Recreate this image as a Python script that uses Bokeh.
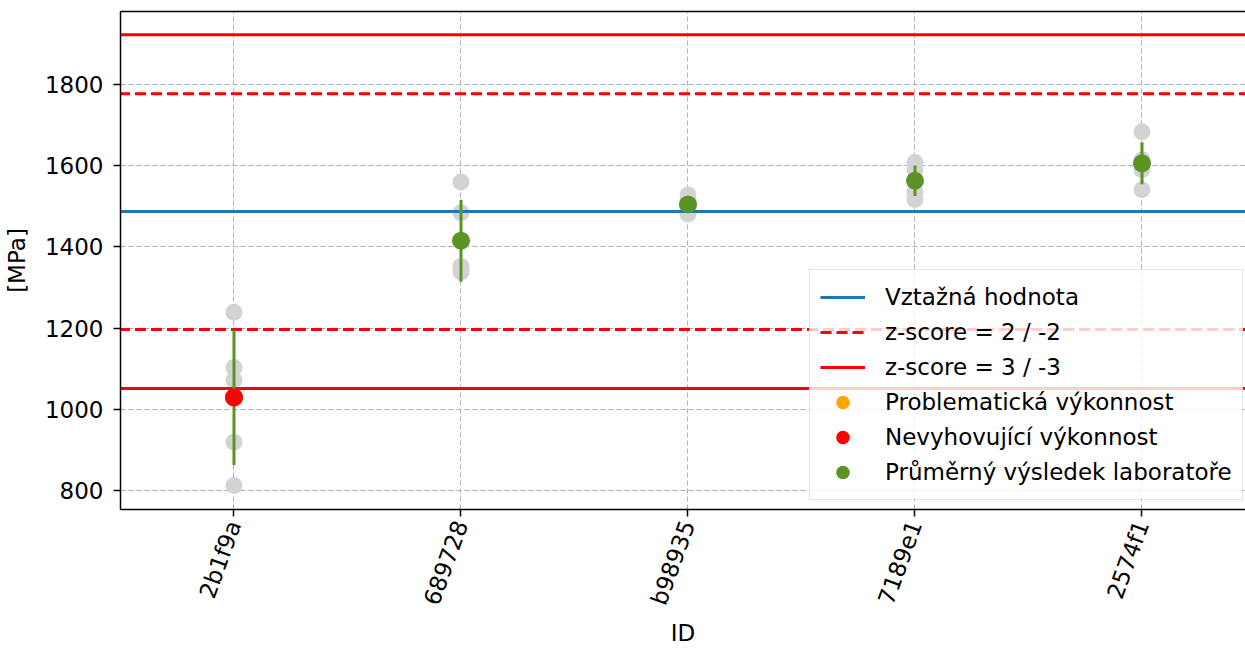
import math
import numpy as np
from bokeh.plotting import figure
from bokeh.models import (Range1d, FixedTicker, LinearAxis, Legend, LegendItem,
                          ColumnDataSource)
from bokeh.embed import file_html
from bokeh.resources import INLINE

# Laboratory IDs and individual results [MPa]
lab_ids = ["2b1f9a", "689728", "b98935", "7189e1", "2574f1"]
results_2b1f9a = [1239, 1103, 1072, 919, 812]
results_689728 = [1560, 1484, 1352, 1343, 1338]
results_b98935 = [1528, 1512, 1505, 1497, 1481]
results_7189e1 = [1608, 1590, 1565, 1535, 1517]
results_2574f1 = [1684, 1615, 1600, 1590, 1541]

# Assigned value and standard deviation for proficiency assessment
ref_value = 1487.0
ref_sigma = 145.3

y_ticks = [800, 1000, 1200, 1400, 1600, 1800]

all_results = [results_2b1f9a, results_689728, results_b98935,
               results_7189e1, results_2574f1]

FONT = "DejaVu Sans"
FONT_SIZE = "23px"
GREEN = "#5b9325"
GREY = "#d3d3d3"

xs_idx = list(range(len(lab_ids)))
means = [float(np.mean(r)) for r in all_results]
stds = [float(np.std(r, ddof=1)) for r in all_results]
zscores = [(m - ref_value) / ref_sigma for m in means]

# individual results
pts_x, pts_y = [], []
for i, r in zip(xs_idx, all_results):
    pts_x += [i] * len(r)
    pts_y += list(r)

p = figure(width=1245, height=648,
           x_range=Range1d(-0.5, 4.456), y_range=Range1d(753, 1980),
           output_backend="svg", toolbar_location=None,
           min_border_left=120, min_border_right=0,
           min_border_top=11, min_border_bottom=139)
p.outline_line_color = None
p.background_fill_color = "white"
p.border_fill_color = "white"

p.scatter(pts_x, pts_y, size=17, fill_color=GREY, line_color=None)

# reference lines
span_x = [-1, len(lab_ids) + 1]
r_ref = p.line(span_x, [ref_value] * 2, line_color="#1f77b4", line_width=3)
r_z2 = None
r_z3 = None
for k, dash in ((2, "11 5"), (3, "solid")):
    for sgn in (1, -1):
        lvl = ref_value + sgn * k * ref_sigma
        r = p.line(span_x, [lvl] * 2, line_color="red", line_width=3, line_dash=dash)
        if sgn == 1:
            if k == 2:
                r_z2 = r
            else:
                r_z3 = r

# error bars and means
p.segment(x0=xs_idx, y0=[m - s for m, s in zip(means, stds)],
          x1=xs_idx, y1=[m + s for m, s in zip(means, stds)],
          line_color=GREEN, line_width=3)
r_mean = p.scatter(xs_idx, means, size=18, fill_color=GREEN, line_color=None)


def flagged(lo, hi):
    xs = [i for i, z in zip(xs_idx, zscores) if lo <= abs(z) < hi]
    ys = [m for m, z in zip(means, zscores) if lo <= abs(z) < hi]
    # keep one (undrawn) row so the legend still shows the marker
    if not xs:
        xs, ys = [float("nan")], [float("nan")]
    return ColumnDataSource(dict(x=xs, y=ys))


r_warn = p.scatter("x", "y", source=flagged(2, 3), size=18, fill_color="orange", line_color=None)
r_fail = p.scatter("x", "y", source=flagged(3, math.inf), size=18, fill_color="red", line_color=None)

# axes
p.xaxis.ticker = FixedTicker(ticks=xs_idx)
p.xaxis.major_label_overrides = {i: lab for i, lab in zip(xs_idx, lab_ids)}
p.xaxis.major_label_orientation = math.radians(70)
p.yaxis.ticker = FixedTicker(ticks=y_ticks)
p.xaxis.axis_label = "ID"
p.yaxis.axis_label = "[MPa]"
for ax in (p.xaxis[0], p.yaxis[0]):
    ax.axis_line_color = "black"
    ax.axis_line_width = 1.5
    ax.major_tick_out = 7
    ax.major_tick_in = 0
    ax.major_tick_line_color = "black"
    ax.major_tick_line_width = 1.5
    ax.minor_tick_out = 0
    ax.minor_tick_in = 0
    ax.major_label_text_font = FONT
    ax.major_label_text_font_size = FONT_SIZE
    ax.major_label_text_color = "black"
    ax.axis_label_text_font = FONT
    ax.axis_label_text_font_size = FONT_SIZE
    ax.axis_label_text_font_style = "normal"
    ax.axis_label_text_color = "black"
p.yaxis.major_label_standoff = 10
p.yaxis.axis_label_standoff = 12
p.xaxis.major_label_standoff = 5
p.xaxis.axis_label_standoff = 4

top_ax = LinearAxis(axis_line_color="black", axis_line_width=1.5,
                    major_tick_out=0, major_tick_in=0, minor_tick_out=0, minor_tick_in=0,
                    major_label_text_font_size="0px", major_label_standoff=0,
                    ticker=FixedTicker(ticks=[]))
p.add_layout(top_ax, "above")

for g in (p.xgrid[0], p.ygrid[0]):
    g.grid_line_color = "#b0b0b0"
    g.grid_line_dash = "5 3"
    g.grid_line_width = 1
p.xgrid.ticker = FixedTicker(ticks=xs_idx)
p.ygrid.ticker = FixedTicker(ticks=y_ticks)

legend = Legend(items=[
    LegendItem(label="Vztažná hodnota", renderers=[r_ref]),
    LegendItem(label="z-score = 2 / -2", renderers=[r_z2]),
    LegendItem(label="z-score = 3 / -3", renderers=[r_z3]),
    LegendItem(label="Problematická výkonnost", renderers=[r_warn]),
    LegendItem(label="Nevyhovující výkonnost", renderers=[r_fail]),
    LegendItem(label="Průměrný výsledek laboratoře", renderers=[r_mean]),
], location=(689, 9))
legend.label_text_font = FONT
legend.label_text_font_size = FONT_SIZE
legend.label_text_color = "black"
legend.label_height = 34
legend.glyph_height = 34
legend.glyph_width = 45
legend.label_standoff = 20
legend.spacing = 1
legend.padding = 10
legend.margin = 0
legend.border_line_color = "#cccccc"
legend.border_line_width = 1
legend.background_fill_color = "white"
legend.background_fill_alpha = 0.8
p.add_layout(legend)

open("out.html", "w").write(file_html(p, INLINE))
